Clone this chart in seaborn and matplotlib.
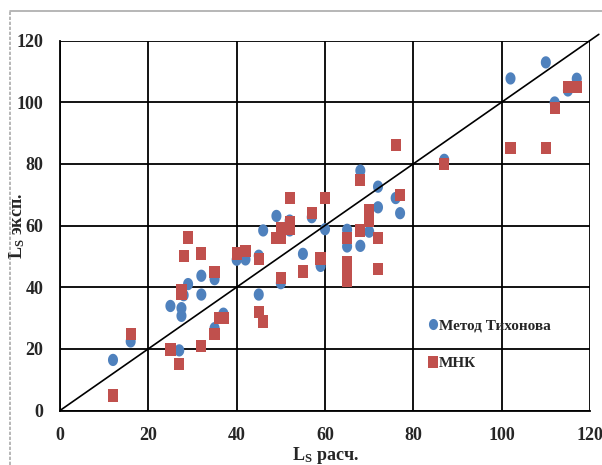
import numpy as np
import pandas as pd
import matplotlib
matplotlib.use("Agg")
import matplotlib.pyplot as plt
from matplotlib.lines import Line2D
import seaborn as sns

# ---- data ----
tikh_x = [12, 16, 25, 27, 27.5, 27.5, 28, 29, 32, 32, 35, 35, 37, 40, 42, 45, 45, 46, 49, 50,
          52, 52, 55, 57, 59, 60, 65, 65, 68, 68, 70, 72, 72, 76, 77, 87, 102, 110, 112, 115, 117]
tikh_y = [16.4, 22.4, 33.9, 19.5, 33.2, 30.7, 37.4, 41, 43.7, 37.6, 42.6, 26.7, 31.4, 48.9, 49, 50.2, 37.6, 58.4, 63.1, 41.3,
          61.6, 58.4, 50.8, 62.7, 46.9, 58.8, 58.6, 53.2, 77.8, 53.4, 58, 72.6, 65.9, 68.9, 64, 81.3, 107.7, 112.9, 99.9, 103.8, 107.6]
mnk_x = [12, 16, 25, 27, 27.5, 27.5, 28, 29, 32, 32, 35, 35, 36, 37, 40, 42, 45, 45, 46, 49,
         50, 50, 50, 52, 52, 52, 55, 57, 59, 60, 65, 65, 65, 65, 68, 68, 70, 70, 72, 72,
         76, 77, 87, 102, 110, 112, 115, 117]
mnk_y = [4.9, 24.8, 19.8, 15, 39.2, 37.8, 50, 56.1, 50.9, 20.9, 45, 24.9, 30, 30, 50.9, 51.8, 49.2, 31.9, 28.9, 55.9,
         59, 56, 42.9, 68.9, 61.1, 58.8, 45.1, 64, 49.3, 68.9, 56, 48.1, 45.9, 42.2, 74.8, 58.4, 64.9, 61.6, 56, 46,
         86, 69.8, 80, 85.1, 85.1, 98, 104.9, 104.9]
series_names = ["Метод Тихонова", "МНК"]
ticks = [0, 20, 40, 60, 80, 100, 120]
diag = [0, 122]

df = pd.DataFrame({
    "x": tikh_x + mnk_x,
    "y": tikh_y + mnk_y,
    "s": [series_names[0]] * len(tikh_x) + [series_names[1]] * len(mnk_x),
})

sns.set_theme(style="white")
plt.rcParams["font.family"] = ["Liberation Serif", "DejaVu Serif"]
plt.rcParams["font.weight"] = "bold"
plt.rcParams["mathtext.default"] = "regular"

fig = plt.figure(figsize=(6.02, 4.65), dpi=100)
ax = fig.add_axes([60 / 602, 1 - 410.5 / 465, 530 / 602, 370 / 465])

t = np.linspace(0, 2 * np.pi, 40)
ellipse = list(zip(0.41 * np.cos(t), 0.5 * np.sin(t)))
rect = [(-0.42, -0.5), (0.42, -0.5), (0.42, 0.5), (-0.42, 0.5), (-0.42, -0.5)]

sns.scatterplot(data=df, x="x", y="y", hue="s", style="s",
                hue_order=series_names, style_order=series_names,
                palette={series_names[0]: "#4F81BD", series_names[1]: "#C0504D"},
                markers={series_names[0]: ellipse, series_names[1]: rect},
                s=78, linewidth=0, edgecolor="none", ax=ax, zorder=3)

ax.plot(diag, diag, color="black", lw=1.2, clip_on=False, zorder=4)

ax.set_xlim(0, 120)
ax.set_ylim(0, 120)
ax.set_xticks(ticks)
ax.set_yticks(ticks)
ax.grid(True, color="black", lw=1.3)
ax.set_axisbelow(True)
for side in ["top", "right"]:
    ax.spines[side].set_visible(False)
for side in ["left", "bottom"]:
    ax.spines[side].set_color("black")
    ax.spines[side].set_linewidth(1.3)
ax.tick_params(axis="both", direction="out", length=5, width=1.3, color="black",
               labelsize=13, pad=7)
for lab in ax.get_xticklabels() + ax.get_yticklabels():
    lab.set_fontweight("bold")

ax.set_xlabel("L$_\\mathregular{S}$ расч.", fontsize=13, fontweight="bold")
ax.set_ylabel("L$_\\mathregular{S}$ эксп.", fontsize=13, fontweight="bold")
ax.xaxis.set_label_coords(0.5, -0.092)
ax.yaxis.set_label_coords(-0.062, 0.5)

handles, labels = ax.get_legend_handles_labels()
for h in handles:
    h.set_markersize(8)
ax.legend(handles, labels, loc="upper left", bbox_to_anchor=(419 / 602, 1 - 311 / 465),
          bbox_transform=fig.transFigure, frameon=False, borderpad=0,
          handletextpad=0.0, handlelength=0.8, labelspacing=1.6,
          prop={"family": "Liberation Serif", "weight": "bold", "size": 11})

# outer gray frame
fig.add_artist(Line2D([10 / 602, 10 / 602], [0, 1 - 11 / 465], transform=fig.transFigure,
                      color="#AAAAAA", lw=1.2, ls=(0, (2, 1))))
fig.add_artist(Line2D([10 / 602, 1], [1 - 11 / 465, 1 - 11 / 465], transform=fig.transFigure,
                      color="#AAAAAA", lw=1.2))

fig.savefig("out.png", dpi=100, facecolor="white")
